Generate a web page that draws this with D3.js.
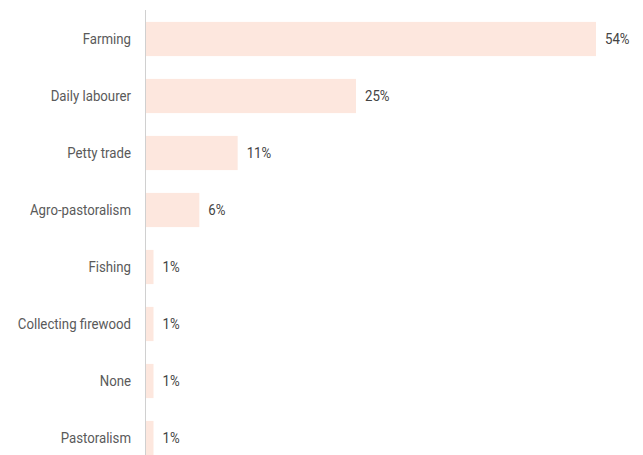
<!DOCTYPE html>
<html>
<head>
<meta charset="utf-8">
<script src="https://cdn.jsdelivr.net/npm/d3@7"></script>
<style>
  body { margin: 0; background: #fff; }
  text { font-family: "Roboto", sans-serif; }
</style>
</head>
<body>
<svg id="chart" width="643" height="455"></svg>
<script>
const categories = ["Farming", "Daily labourer", "Petty trade", "Agro-pastoralism",
  "Fishing", "Collecting firewood", "None", "Pastoralism"];
const values = [54, 25.2, 11, 6.4, 0.9, 0.9, 0.9, 0.9];
const valueLabels = ["54%", "25%", "11%", "6%", "1%", "1%", "1%", "1%"];

const svg = d3.select('#chart');
const left = 146;

const x = d3.scaleLinear()
  .domain([0, 54])
  .range([left, 596]);

const y = d3.scaleBand()
  .domain(categories)
  .range([10.5, 466.5])
  .paddingInner(0.4)
  .paddingOuter(0.2);

svg.append('g')
  .selectAll('rect')
  .data(categories)
  .join('rect')
  .attr('x', x(0))
  .attr('y', d => y(d))
  .attr('width', (d, i) => x(values[i]) - x(0))
  .attr('height', y.bandwidth())
  .attr('fill', '#fde7de');

svg.append('line')
  .attr('x1', 145.5).attr('x2', 145.5)
  .attr('y1', 10).attr('y2', 455)
  .attr('stroke', '#d0d0d0')
  .attr('stroke-width', 1);

// category labels, squeezed a little to mimic the condensed face
svg.append('g')
  .selectAll('text')
  .data(categories)
  .join('text')
  .attr('transform', d => `translate(131,${y(d) + y.bandwidth() / 2}) scale(0.945,1)`)
  .attr('dy', '0.35em')
  .attr('text-anchor', 'end')
  .attr('font-size', 14)
  .attr('fill', '#5a5a5a')
  .text(d => d);

svg.append('g')
  .selectAll('text')
  .data(categories)
  .join('text')
  .attr('transform', (d, i) => `translate(${x(values[i]) + 9},${y(d) + y.bandwidth() / 2}) scale(0.945,1)`)
  .attr('dy', '0.35em')
  .attr('font-size', 14)
  .attr('fill', '#444')
  .text((d, i) => valueLabels[i]);
</script>
</body>
</html>
